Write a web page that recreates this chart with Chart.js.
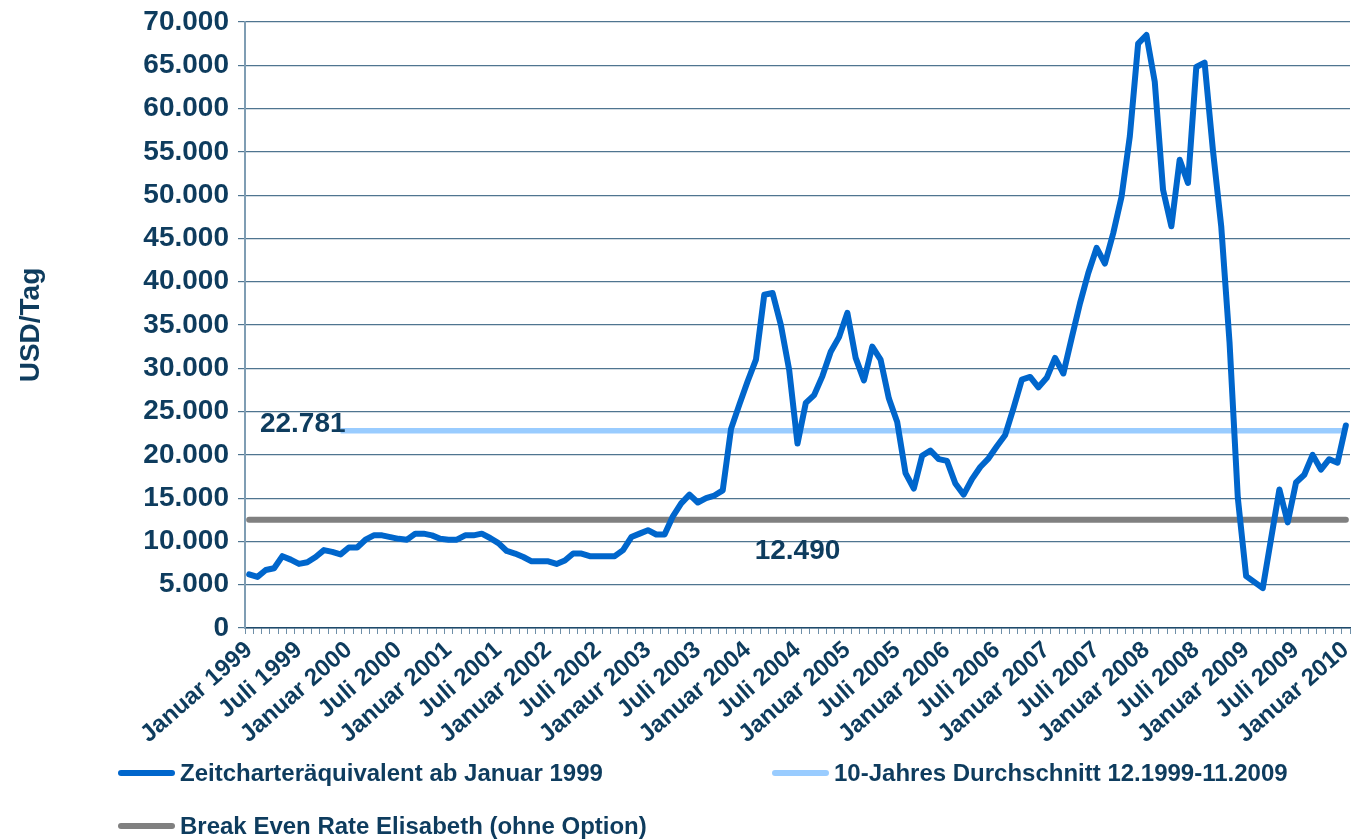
<!DOCTYPE html>
<html>
<head>
<meta charset="utf-8">
<script src="https://cdn.jsdelivr.net/npm/chart.js@4.4.1/dist/chart.umd.min.js"></script>
<style>
    body { margin: 0; background: #fff; }
    #wrap { position: relative; width: 1353px; height: 840px; }
    #legende { position: absolute; left: 0; top: 0; font: bold 24px "Liberation Sans", Arial, sans-serif; color: #0e3c5e; }
    .eintrag { position: absolute; display: flex; align-items: center; white-space: nowrap; height: 28px; }
    .strich { width: 57px; height: 6px; border-radius: 3px; margin-right: 5px; }
</style>
</head>
<body>
<div id="wrap">
    <canvas id="graficoCharter" width="1353" height="840"></canvas>
    <div id="legende"></div>
</div>
<script>
// Monatswerte Jan 1999 - Jan 2010 (USD/Tag)
const zeitcharter = [
    6200, 5900, 6700, 6900, 8300, 7900, 7400, 7600, 8200, 9000, 8800, 8500,
    9300, 9300, 10200, 10700, 10700, 10500, 10300, 10200, 10900, 10900, 10700, 10300,
    10200, 10200, 10700, 10700, 10900, 10400, 9800, 8900, 8600, 8200, 7700, 7700,
    7700, 7400, 7800, 8600, 8600, 8300, 8300, 8300, 8300, 9000, 10500, 10900,
    11300, 10800, 10800, 12900, 14400, 15400, 14500, 15000, 15300, 15900, 23000, 25800,
    28500, 31000, 38500, 38700, 35000, 29800, 21300, 26000, 26900, 29100, 31900, 33600,
    36400, 31200, 28600, 32500, 31000, 26500, 23800, 17900, 16100, 19900, 20500, 19500,
    19300, 16700, 15400, 17200, 18600, 19600, 21000, 22300, 25400, 28700, 29000, 27800,
    28900, 31200, 29400, 33500, 37500, 41000, 43900, 42100, 45600, 49800, 56800, 67500,
    68500, 63100, 50600, 46400, 54100, 51400, 64800, 65300, 55200, 46400, 33000, 15000,
    6000, 5300, 4600, 10300, 16000, 12200, 16800, 17700, 20000, 18300, 19500, 19100,
    23400
];
const durchschnittWert = 22781;
const durchschnittStart = 11;   // Dezember 1999
const breakEvenWert = 12490;

const achsenLabels = [
    "Januar 1999", "Juli 1999", "Januar 2000", "Juli 2000", "Januar 2001", "Juli 2001",
    "Januar 2002", "Juli 2002", "Janaur 2003", "Juli 2003", "Januar 2004", "Juli 2004",
    "Januar 2005", "Juli 2005", "Januar 2006", "Juli 2006", "Januar 2007", "Juli 2007",
    "Januar 2008", "Juli 2008", "Januar 2009", "Juli 2009", "Januar 2010"
];
const serienNamen = [
    "Zeitcharteräquivalent ab Januar 1999",
    "10-Jahres Durchschnitt 12.1999-11.2009",
    "Break Even Rate Elisabeth (ohne Option)"
];

const monate = [];
for (let a = 1999; a <= 2010; a++) {
    for (let m = 1; m <= 12; m++) {
        if (a < 2010 || m === 1) monate.push(a + "-" + String(m).padStart(2, "0"));
    }
}
const durchschnitt = monate.map((_, i) => i >= durchschnittStart ? durchschnittWert : null);
const breakEven = monate.map(() => breakEvenWert);

const dunkelblau = "#0e3c5e";
const schrift = '"Liberation Sans", Arial, sans-serif';
const farben = ["#0066cc", "#99ccff", "#808080"];

function formatZahl(v) {
    return String(v).replace(/\B(?=(\d{3})+(?!\d))/g, ".");
}

const beschriftungen = {
    id: "beschriftungen",
    afterDatasetsDraw(chart) {
        const { ctx, scales: { x, y } } = chart;
        ctx.save();
        ctx.font = "bold 28px " + schrift;
        ctx.fillStyle = dunkelblau;
        ctx.textBaseline = "alphabetic";
        ctx.textAlign = "right";
        ctx.fillText(formatZahl(durchschnittWert), x.getPixelForValue(durchschnittStart) + 5, y.getPixelForValue(durchschnittWert) + 1);
        ctx.textAlign = "center";
        ctx.fillText(formatZahl(breakEvenWert), x.getPixelForValue(66), y.getPixelForValue(breakEvenWert) + 39);
        ctx.restore();
    }
};

Chart.defaults.font.family = schrift;

new Chart(document.getElementById("graficoCharter").getContext("2d"), {
    type: "line",
    data: {
        labels: monate,
        datasets: [{
            label: serienNamen[0],
            data: zeitcharter,
            borderColor: farben[0],
            borderWidth: 6,
            pointRadius: 0,
            borderJoinStyle: "round",
            borderCapStyle: "round"
        }, {
            label: serienNamen[1],
            data: durchschnitt,
            borderColor: farben[1],
            borderWidth: 5.5,
            pointRadius: 0
        }, {
            label: serienNamen[2],
            data: breakEven,
            borderColor: farben[2],
            borderWidth: 6,
            pointRadius: 0,
            borderCapStyle: "round"
        }]
    },
    options: {
        responsive: false,
        animation: false,
        layout: { padding: { top: 22, right: 3, bottom: 0, left: 0 } },
        plugins: { legend: { display: false }, tooltip: { enabled: false } },
        scales: {
            x: {
                offset: true,
                grid: { offset: true, drawOnChartArea: false, drawTicks: true, tickLength: 6, color: "#6f8fa8", lineWidth: 1 },
                border: { display: true, color: "#1f4a6b", width: 1.5 },
                ticks: {
                    autoSkip: false,
                    minRotation: 41,
                    maxRotation: 41,
                    padding: 2,
                    color: dunkelblau,
                    font: { size: 24, weight: "bold" },
                    callback: (v, i) => i % 6 === 0 ? achsenLabels[i / 6] : ""
                },
                afterFit: s => {
                    s.height = 212;
                    s.paddingLeft = 0;
                    s.paddingRight = 0;
                }
            },
            y: {
                min: 0,
                max: 70000,
                ticks: {
                    stepSize: 5000,
                    color: dunkelblau,
                    padding: 9,
                    font: { size: 28, weight: "bold" },
                    callback: v => formatZahl(v)
                },
                grid: { color: "#4f7590", lineWidth: 1.2, tickLength: 7 },
                border: { color: "#7f9db3", width: 2 },
                title: {
                    display: true,
                    text: "USD/Tag",
                    color: dunkelblau,
                    font: { size: 28, weight: "bold" },
                    padding: { top: 14, bottom: 0 }
                },
                afterFit: s => {
                    s.width = 245;
                    s.paddingTop = 0;
                    s.paddingBottom = 0;
                }
            }
        }
    },
    plugins: [beschriftungen]
});

// Legende
const positionen = [[118, 773], [772, 773], [118, 826]];
const legende = document.getElementById("legende");
serienNamen.forEach((name, i) => {
    const e = document.createElement("div");
    e.className = "eintrag";
    e.style.left = positionen[i][0] + "px";
    e.style.top = (positionen[i][1] - 14) + "px";
    e.innerHTML = '<span class="strich" style="background:' + farben[i] + '"></span><span>' + name + '</span>';
    legende.appendChild(e);
});
</script>
</body>
</html>
